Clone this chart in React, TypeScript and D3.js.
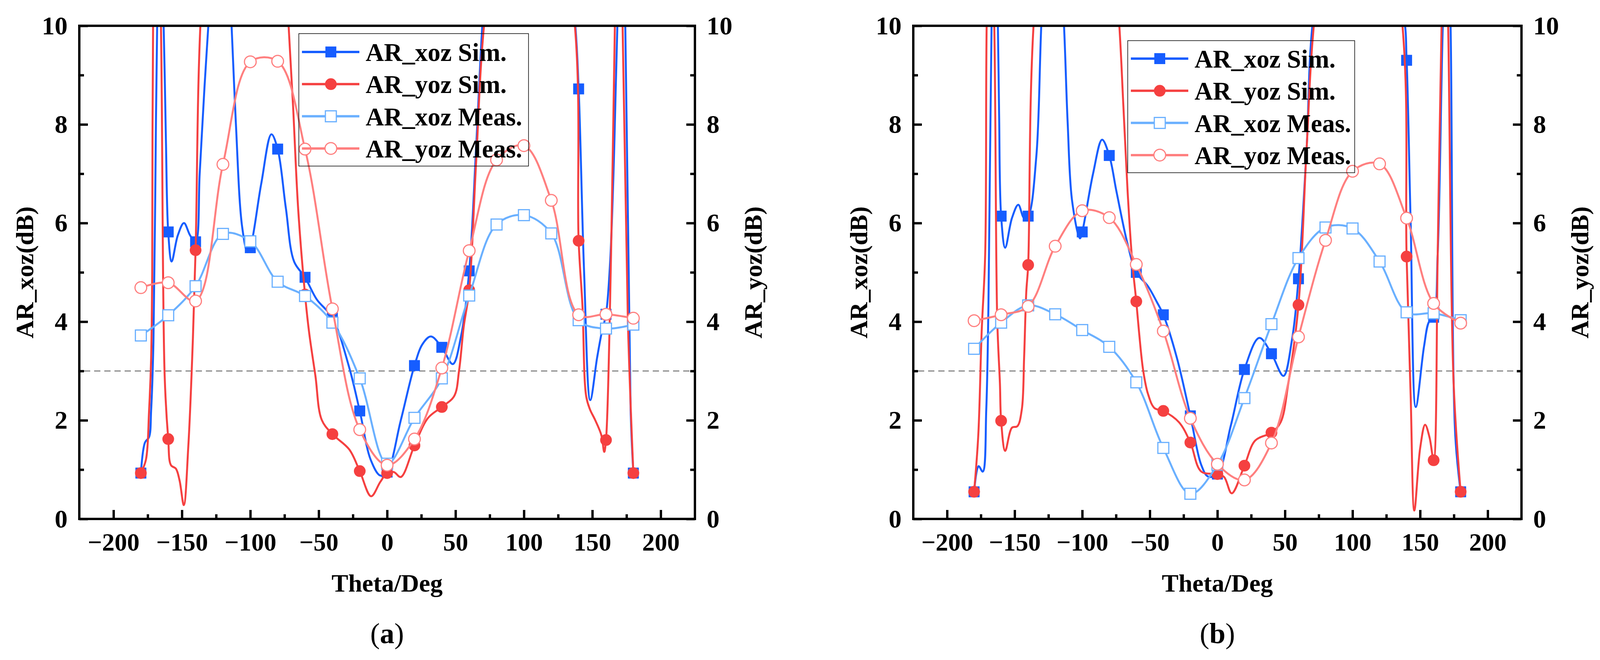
import React, { useRef, useEffect } from "react";
import * as d3 from "d3";

// angles where the symbols sit (and where the measured points were taken)
const thetaMarks = [-180, -160, -140, -120, -100, -80, -60, -40, -20, 0, 20, 40, 60, 80, 100, 120, 140, 160, 180];

// (a) measured
const aXozMeas = [3.72, 4.13, 4.72, 5.78, 5.63, 4.81, 4.52, 3.98, 2.85, 1.12, 2.05, 2.85, 4.53, 5.97, 6.16, 5.79, 4.03, 3.86, 3.94];
const aYozMeas = [4.69, 4.79, 4.42, 7.19, 9.27, 9.28, 7.5, 4.26, 1.81, 1.09, 1.62, 3.06, 5.44, 7.28, 7.57, 6.46, 4.14, 4.15, 4.07];

// (a) simulated traces (values above 10 run off the top of the frame)
const aXozSimTheta = [-180, -177, -174, -172.5, -170.8, -169.5, -168, -166, -163.5, -161.7, -160, -157.5, -153, -148.5, -144, -140, -137, -133.5, -130, -122, -114, -110.6, -106, -102, -100, -92, -84.6, -80, -74, -68, -60, -51.4, -40, -28, -20, -12, -5, 0, 10, 20, 26, 32, 40, 48, 54, 60, 65, 70, 80, 100, 120, 137, 140, 144, 148.5, 153.5, 157, 160, 163, 166, 168.5, 171.5, 174, 178, 180];
const aXozSimVal = [0.93, 1.55, 1.66, 2.2, 3.6, 6.5, 10.2, 12, 10.2, 7.7, 5.82, 5.22, 5.75, 6.0, 5.75, 5.62, 7.0, 8.75, 10.3, 14, 10.2, 8.05, 5.93, 5.41, 5.5, 6.8, 7.8, 7.5, 6.3, 5.22, 4.9, 4.45, 4.08, 3.1, 2.19, 1.2, 0.88, 0.95, 2.0, 3.11, 3.55, 3.7, 3.48, 3.14, 3.7, 5.03, 7.5, 10.2, 14, 15, 14, 10.2, 8.72, 5.0, 2.41, 3.27, 3.8, 4.15, 5.2, 7.5, 10.2, 12, 10.2, 2.2, 0.93];
const aYozSimTheta = [-180, -176.3, -174, -172.5, -171.7, -171, -168.5, -165.5, -162.6, -160, -158, -154.4, -151.7, -148.6, -145.3, -142.5, -140, -136, -120, -100, -80, -72.4, -68.8, -65, -60, -57, -52.4, -47.8, -40, -27.7, -20, -11.7, -5, 0, 5, 10, 20, 30, 40, 49, 52.6, 56, 60, 65, 71.5, 100, 136.6, 140, 142.8, 145.5, 148.3, 152, 156.6, 158.7, 160, 163.7, 166.6, 169, 172, 176, 180];
const aYozSimVal = [0.93, 1.2, 2.19, 3.25, 5.0, 10.3, 13, 10.3, 2.9, 1.62, 1.09, 1.02, 0.78, 0.28, 1.48, 3.25, 5.45, 10.3, 16, 17, 15, 10.2, 8.4, 6.28, 4.55, 3.78, 2.9, 2.01, 1.72, 1.41, 0.97, 0.46, 0.75, 0.93, 0.95, 0.85, 1.49, 2.05, 2.27, 2.49, 3.01, 3.9, 4.64, 7.2, 10.2, 16, 10.2, 5.64, 4.32, 2.49, 2.22, 2.01, 1.7, 1.36, 1.6, 5.37, 10.2, 12.5, 10.2, 4.0, 0.93];

// (b) measured
const bXozMeas = [3.45, 3.98, 4.33, 4.15, 3.83, 3.49, 2.77, 1.44, 0.51, 1.1, 2.45, 3.95, 5.29, 5.91, 5.89, 5.22, 4.19, 4.17, 4.03];
const bYozMeas = [4.02, 4.14, 4.31, 5.53, 6.25, 6.11, 5.16, 3.81, 2.04, 1.11, 0.79, 1.54, 3.69, 5.65, 7.05, 7.2, 6.1, 4.37, 3.97];

// (b) simulated traces
const bXozSimTheta = [-180, -176.7, -173.6, -171, -169.4, -167, -165, -162.5, -161.5, -160, -157, -152, -147.3, -143, -140, -134, -130, -122, -113.8, -110.8, -107.5, -101.7, -100, -92, -85.3, -80, -74.6, -66.4, -60, -51.4, -44.8, -40, -30, -20, -12, -6.9, 0, 10, 20, 31, 40, 48.9, 55, 60, 66, 71, 100, 138, 140, 143, 146.8, 152.9, 156.6, 160, 163, 167, 170, 172.4, 176, 180];
const bXozSimVal = [0.55, 1.07, 0.96, 2.22, 4.31, 10.2, 12.5, 10.2, 8.2, 6.14, 5.5, 6.1, 6.37, 6.1, 6.14, 7.34, 10.2, 14, 10.2, 8.05, 6.45, 5.69, 5.82, 7.0, 7.69, 7.37, 6.63, 5.57, 5.0, 4.72, 4.4, 4.14, 3.27, 2.09, 1.1, 0.86, 0.91, 1.9, 3.03, 3.67, 3.35, 2.9, 3.6, 4.87, 7.5, 10.2, 15, 10.2, 9.3, 6.0, 2.27, 3.5, 4.0, 4.09, 5.37, 10.2, 12, 10.2, 1.7, 0.55];
const bYozSimTheta = [-180, -176.9, -174.4, -171.8, -170.6, -168, -165.2, -162.9, -160.9, -160, -157, -152, -148, -144.7, -143, -141.4, -140, -135.6, -110, -90, -73, -69.6, -66.4, -63, -60, -58, -54.9, -51.4, -46.6, -40, -28.4, -20, -11.9, 0, 5, 10.6, 20, 28, 40, 46.8, 52.5, 60, 66, 72, 100, 136.3, 140, 143, 145.7, 150, 153.7, 157, 160, 163, 166, 168.5, 170.6, 174.8, 180];
const bYozSimVal = [0.55, 1.7, 3.8, 5.37, 10.2, 12.5, 10.2, 4.06, 2.75, 1.99, 1.38, 1.85, 1.88, 2.22, 3.27, 4.6, 5.15, 10.2, 17, 16, 10.2, 8.4, 6.63, 5.22, 4.41, 3.8, 3.01, 2.54, 2.25, 2.19, 1.96, 1.55, 0.96, 0.91, 0.85, 0.52, 1.08, 1.59, 1.75, 1.96, 2.75, 4.34, 7.5, 10.2, 16, 10.2, 5.32, 2.5, 0.17, 1.43, 1.91, 1.65, 1.19, 5.37, 10.2, 12, 10.2, 2.75, 0.55];

const xMajorTicks = [-200, -150, -100, -50, 0, 50, 100, 150, 200];
const xMinorTicks = [-175, -125, -75, -25, 25, 75, 125, 175];
const yMajorTicks = [0, 2, 4, 6, 8, 10];
const yMinorTicks = [1, 3, 5, 7, 9];
const thresholdDb = 3;

const legendLabels = ["AR_xoz Sim.", "AR_yoz Sim.", "AR_xoz Meas.", "AR_yoz Meas."];
const leftTitle = "AR_xoz(dB)";
const rightTitle = "AR_yoz(dB)";
const xTitle = "Theta/Deg";
const panelLetters = ["a", "b"];

const FONT = "'Liberation Serif', 'Times New Roman', serif";
const COLORS = ["#165DFF", "#F54040", "#6AB0FF", "#FF7F7F"];
const SHAPES = ["square", "circle", "square", "circle"];
const FILLED = [true, true, false, false];

interface Pt { t: number; v: number; }

const zip = (t: number[], v: number[]): Pt[] => t.map((d, i) => ({ t: d, v: v[i] }));

const panels = [
  {
    left: 203, right: 1779,
    legend: { x: 765, y: 86, w: 588, h: 339, row0: 133 },
    lines: [zip(aXozSimTheta, aXozSimVal), zip(aYozSimTheta, aYozSimVal), zip(thetaMarks, aXozMeas), zip(thetaMarks, aYozMeas)],
  },
  {
    left: 2338, right: 3895,
    legend: { x: 2887, y: 104, w: 581, h: 338, row0: 150 },
    lines: [zip(bXozSimTheta, bXozSimVal), zip(bYozSimTheta, bYozSimVal), zip(thetaMarks, bXozMeas), zip(thetaMarks, bYozMeas)],
  },
];

export default function App() {
  const ref = useRef<HTMLDivElement>(null);

  useEffect(() => {
    if (!ref.current) return;
    ref.current.innerHTML = "";
    document.body.style.margin = "0";

    const W = 4115, H = 1689;
    const top = 66, bottom = 1328;

    const svg = d3.select(ref.current)
      .append("svg")
      .attr("width", W)
      .attr("height", H)
      .style("display", "block")
      .style("background", "#fff");

    const defs = svg.append("defs");

    function drawMarker(g: any, cx: number, cy: number, i: number) {
      if (SHAPES[i] === "square") {
        g.append("rect")
          .attr("x", cx - 14).attr("y", cy - 14)
          .attr("width", 28).attr("height", 28)
          .attr("fill", FILLED[i] ? COLORS[i] : "#fff")
          .attr("stroke", FILLED[i] ? "none" : COLORS[i])
          .attr("stroke-width", 3);
      } else {
        g.append("circle")
          .attr("cx", cx).attr("cy", cy).attr("r", 15)
          .attr("fill", FILLED[i] ? COLORS[i] : "#fff")
          .attr("stroke", FILLED[i] ? "none" : COLORS[i])
          .attr("stroke-width", 3);
      }
    }

    panels.forEach((p, pi) => {
      const x = d3.scaleLinear().domain([-225, 225]).range([p.left, p.right]);
      const y = d3.scaleLinear().domain([0, 10]).range([bottom, top]);

      defs.append("clipPath").attr("id", `clip${pi}`)
        .append("rect")
        .attr("x", p.left).attr("y", top)
        .attr("width", p.right - p.left).attr("height", bottom - top);

      const g = svg.append("g");

      // 3 dB reference
      g.append("line")
        .attr("x1", p.left + 12).attr("x2", p.right)
        .attr("y1", y(thresholdDb)).attr("y2", y(thresholdDb))
        .attr("stroke", "#808080")
        .attr("stroke-width", 2.7)
        .attr("stroke-dasharray", "16,10");

      const line = d3.line<Pt>()
        .x(d => x(d.t))
        .y(d => y(d.v))
        .curve(d3.curveCatmullRom.alpha(0.5));

      const plot = g.append("g").attr("clip-path", `url(#clip${pi})`);

      p.lines.forEach((pts, i) => {
        plot.append("path")
          .datum(pts)
          .attr("fill", "none")
          .attr("stroke", COLORS[i])
          .attr("stroke-width", 5)
          .attr("stroke-linejoin", "round")
          .attr("d", line as any);
        pts
          .filter(d => thetaMarks.includes(d.t) && d.v <= 10)
          .forEach(d => drawMarker(plot, x(d.t), y(d.v), i));
      });

      // frame
      g.append("rect")
        .attr("x", p.left).attr("y", top)
        .attr("width", p.right - p.left).attr("height", bottom - top)
        .attr("fill", "none")
        .attr("stroke", "#000")
        .attr("stroke-width", 6);

      const styleAxis = (sel: any, size: number) => {
        sel.select(".domain").remove();
        sel.selectAll("line").attr("stroke", "#000").attr("stroke-width", 6);
        sel.selectAll("text")
          .attr("font-family", FONT)
          .attr("font-weight", "bold")
          .attr("font-size", size)
          .attr("fill", "#000");
      };

      g.append("g")
        .attr("transform", `translate(0,${bottom})`)
        .call(d3.axisBottom(x).tickValues(xMajorTicks).tickSize(-23).tickPadding(36).tickFormat(d3.format("d")) as any)
        .call((s: any) => styleAxis(s, 64));
      g.append("g")
        .attr("transform", `translate(0,${bottom})`)
        .call(d3.axisBottom(x).tickValues(xMinorTicks).tickSize(-12).tickFormat(() => "") as any)
        .call((s: any) => styleAxis(s, 64));

      g.append("g")
        .attr("transform", `translate(${p.left},0)`)
        .call(d3.axisLeft(y).tickValues(yMajorTicks).tickSize(-22).tickPadding(30).tickFormat(d3.format("d")) as any)
        .call((s: any) => styleAxis(s, 66));
      g.append("g")
        .attr("transform", `translate(${p.left},0)`)
        .call(d3.axisLeft(y).tickValues(yMinorTicks).tickSize(-12).tickFormat(() => "") as any)
        .call((s: any) => styleAxis(s, 66));

      g.append("g")
        .attr("transform", `translate(${p.right},0)`)
        .call(d3.axisRight(y).tickValues(yMajorTicks).tickSize(-22).tickPadding(30).tickFormat(d3.format("d")) as any)
        .call((s: any) => styleAxis(s, 66));
      g.append("g")
        .attr("transform", `translate(${p.right},0)`)
        .call(d3.axisRight(y).tickValues(yMinorTicks).tickSize(-12).tickFormat(() => "") as any)
        .call((s: any) => styleAxis(s, 66));

      // axis titles
      const yc = (top + bottom) / 2;
      const titles = [
        { tx: p.left - 140, label: leftTitle },
        { tx: p.right + 149, label: rightTitle },
      ];
      titles.forEach(t => {
        g.append("text")
          .attr("x", t.tx).attr("y", yc)
          .attr("dy", "0.35em")
          .attr("transform", `rotate(-90,${t.tx},${yc})`)
          .attr("text-anchor", "middle")
          .attr("font-family", FONT)
          .attr("font-weight", "bold")
          .attr("font-size", 64)
          .text(t.label);
      });

      g.append("text")
        .attr("x", x(0)).attr("y", 1514)
        .attr("text-anchor", "middle")
        .attr("font-family", FONT)
        .attr("font-weight", "bold")
        .attr("font-size", 64)
        .text(xTitle);

      // panel tag: plain parentheses, bold letter
      const tag = g.append("text")
        .attr("x", x(0)).attr("y", 1646)
        .attr("text-anchor", "middle")
        .attr("font-family", FONT)
        .attr("font-size", 74);
      tag.append("tspan").text("(");
      tag.append("tspan").attr("font-weight", "bold").text(panelLetters[pi]);
      tag.append("tspan").text(")");

      // legend
      const L = p.legend;
      const lg = g.append("g");
      lg.append("rect")
        .attr("x", L.x).attr("y", L.y)
        .attr("width", L.w).attr("height", L.h)
        .attr("fill", "none")
        .attr("stroke", "#000")
        .attr("stroke-width", 1.5);
      legendLabels.forEach((lab, i) => {
        const ry = L.row0 + i * 82.3;
        lg.append("line")
          .attr("x1", L.x + 8).attr("x2", L.x + 155)
          .attr("y1", ry).attr("y2", ry)
          .attr("stroke", COLORS[i])
          .attr("stroke-width", 6);
        drawMarker(lg, L.x + 82, ry, i);
        lg.append("text")
          .attr("x", L.x + 171).attr("y", ry + 23)
          .attr("font-family", FONT)
          .attr("font-weight", "bold")
          .attr("font-size", 65)
          .text(lab);
      });
    });
  }, []);

  return <div ref={ref} />;
}
